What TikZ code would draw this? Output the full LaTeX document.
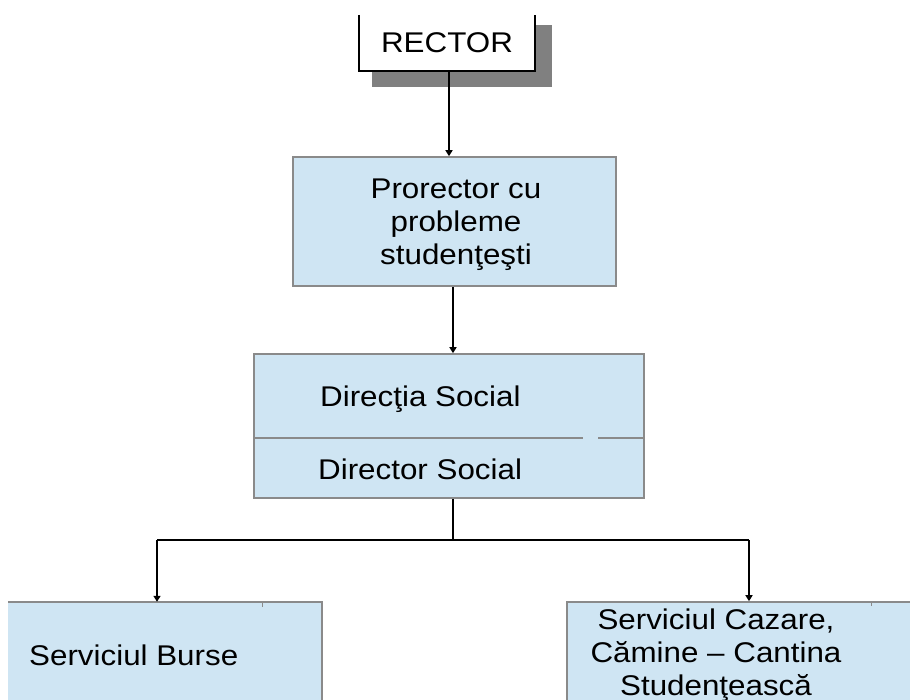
\documentclass[tikz,border=0pt]{standalone}
\usepackage{fontspec}
\setmainfont{Liberation Sans}[FakeStretch=1.1]
\usetikzlibrary{arrows.meta}
\definecolor{boxfill}{HTML}{CFE5F3}
\definecolor{boxline}{HTML}{8A8A8A}
\definecolor{shadowgray}{HTML}{808080}
\begin{document}
\begin{tikzpicture}[x=1pt,y=-1pt,
  unit/.style={fill=boxfill,draw=boxline,line width=1.6pt,inner sep=0pt},
  label/.style={font=\fontsize{28.5}{33}\selectfont,align=center,inner sep=0pt},
  edge/.style={draw=boxline,line width=1.6pt},
  conn/.style={line width=1.8pt,-{Triangle[length=6pt,width=7pt]}},
  link/.style={line width=1.8pt}]
\useasboundingbox (0,0) rectangle (910,700);
\begin{scope}
\clip (0,0) rectangle (910,700);

% Rector box with drop shadow; its top edge lies outside the page
\fill[shadowgray] (372,25) rectangle (552,87);
\node[fill=white,inner sep=0pt,minimum width=176pt,minimum height=56pt] (rector) at (447,43) {};
\draw[line width=1.6pt] (rector.north west) -- (rector.south west) -- (rector.south east) -- (rector.north east);
\node[label] (rectorlbl) at (447,43) {RECTOR};

% Vice-rector
\node[unit,minimum width=323pt,minimum height=129pt] (pro) at (454.5,221.5) {};
\node[label] (prolbl) at (456,225) {Prorector cu\\probleme\\studenţeşti};

% Social directorate, split in two rows
\node[unit,minimum width=390pt,minimum height=144pt] (dir) at (449,426) {};
\coordinate (divL) at (254,438);
\coordinate (divR) at (644,438);
\coordinate (gapA) at (583,438);
\coordinate (gapB) at (598,438);
\draw[edge] (divL) -- (gapA);
\draw[edge] (gapB) -- (divR);
\node[label,anchor=west] (dirlbl) at (320,399) {Direcţia Social};
\node[label,anchor=west] (dirlbl2) at (318,469) {Director Social};

% Scholarship service
\node[fill=boxfill,inner sep=0pt,minimum width=314pt,minimum height=110pt] (burse) at (165,657) {};
\draw[edge] (burse.north west) -- (burse.north east) -- (burse.south east);
\draw[edge,line width=1pt] ([xshift=255pt]burse.north west) -- ++(0,5);
\node[label,anchor=west] (burselbl) at (29,655) {Serviciul Burse};

% Accommodation and canteen service
\node[unit,minimum width=348pt,minimum height=110pt] (cazare) at (741,657) {};
\draw[edge,line width=1pt] ([xshift=305pt]cazare.north west) -- ++(0,5);
\node[label] (cazarelbl) at (716,655) {Serviciul Cazare,\\Cămine -- Cantina\\Studenţească};

\end{scope}

% Connectors
\draw[conn] ([xshift=2pt]rector.south) -- ([xshift=2pt]rector.south |- pro.north);
\draw[conn] ([xshift=-1.5pt]pro.south) -- ([xshift=-1.5pt]pro.south |- dir.north);
\coordinate (fork) at (453,540);
\coordinate (forkL) at (157,540);
\coordinate (forkR) at (749,540);
\draw[link] (dir.south -| fork) -- (fork);
\draw[link] (forkL) -- (forkR);
\draw[conn] (forkL) -- (forkL |- burse.north);
\draw[conn] (forkR) -- (forkR |- cazare.north);
\end{tikzpicture}
\end{document}
